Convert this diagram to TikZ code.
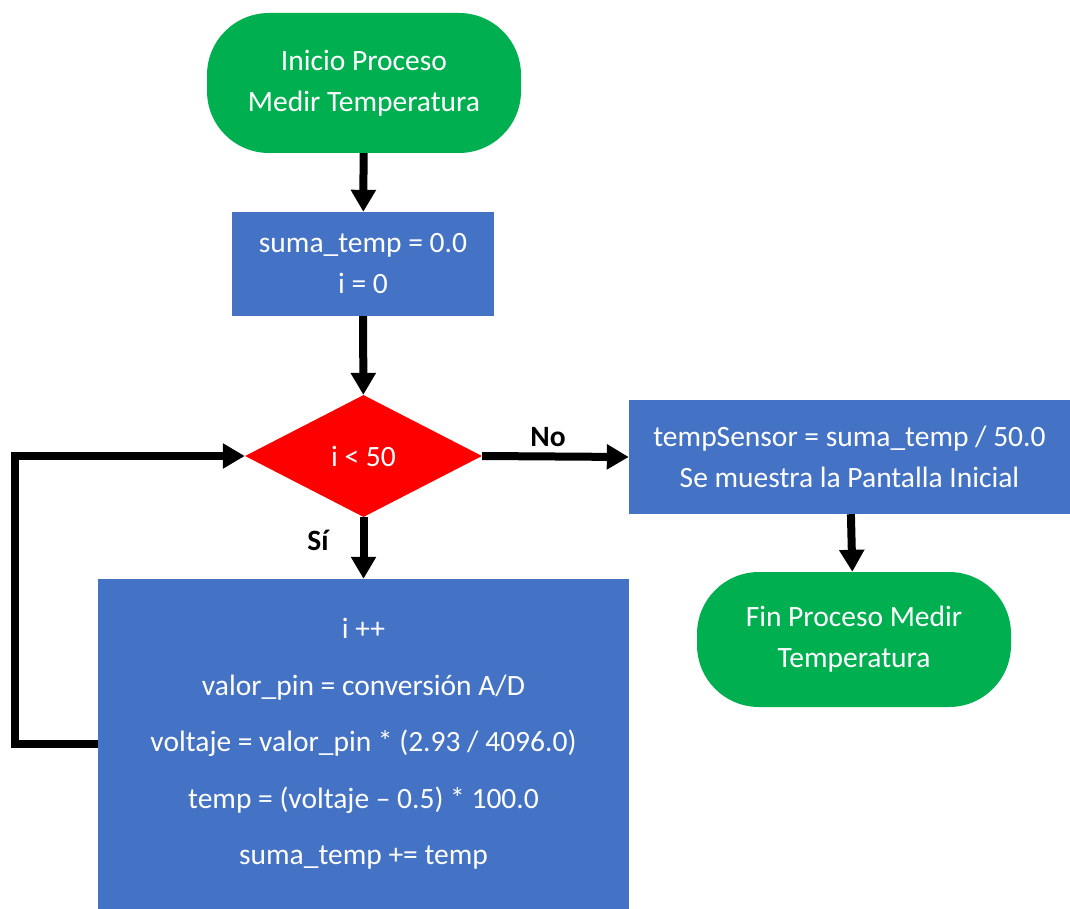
\documentclass[tikz,border=0pt]{standalone}
\usepackage{fontspec}
\setmainfont{Carlito}
\usetikzlibrary{shapes.geometric,arrows.meta}
\definecolor{termgreen}{HTML}{00B050}
\definecolor{procblue}{HTML}{4472C4}
\definecolor{decred}{HTML}{FF0000}
\begin{document}
\begin{tikzpicture}[x=1pt,y=-1pt,
  txt/.style={text=white,align=center,font=\fontsize{29.5}{41}\selectfont,inner sep=0pt},
  terminal/.style={txt,fill=termgreen,rounded corners=62pt,minimum width=314pt},
  process/.style={txt,fill=procblue},
  decision/.style={txt,fill=decred,diamond,minimum width=237pt,minimum height=122pt},
  flow/.style={line width=8pt,-{Triangle[width=24pt,length=22pt]}},
  lbl/.style={font=\fontsize{29.5}{34}\selectfont\bfseries,inner sep=0pt}]
\useasboundingbox (0,0) rectangle (1070,909);

\node[terminal,minimum height=140pt] (start) at (364,83) {Inicio Proceso\\Medir Temperatura};
\node[process,minimum width=262pt,minimum height=104pt] (init) at (363,264) {suma\_temp = 0.0\\i = 0};
\node[decision] (cond) at (363.5,456) {i < 50};
\node[process,minimum width=441pt,minimum height=114pt] (result) at (849.5,457) {tempSensor = suma\_temp / 50.0\\Se muestra la Pantalla Inicial};
\node[terminal,minimum height=135pt] (stop) at (854,639.5) {Fin Proceso Medir\\Temperatura};
\node[process,minimum width=531pt,minimum height=330pt,font=\fontsize{29.5}{56.5}\selectfont] (body) at (363.5,744)
  {i ++\\valor\_pin = conversión A/D\\voltaje = valor\_pin * (2.93 / 4096.0)\\temp = (voltaje – 0.5) * 100.0\\suma\_temp += temp};

\draw[flow] (start) -- (init);
\draw[flow] (init) -- (cond);
\draw[flow] (cond.east) -- (result.west);
\draw[flow] (result) -- (stop);
\draw[flow] (cond.south) -- (body.north);
\draw[flow] (body.west) -- ++(-83,0) |- (cond.west);

\node[lbl] (no) at (548,437) {No};
\node[lbl] (si) at (318,540) {Sí};
\end{tikzpicture}
\end{document}
